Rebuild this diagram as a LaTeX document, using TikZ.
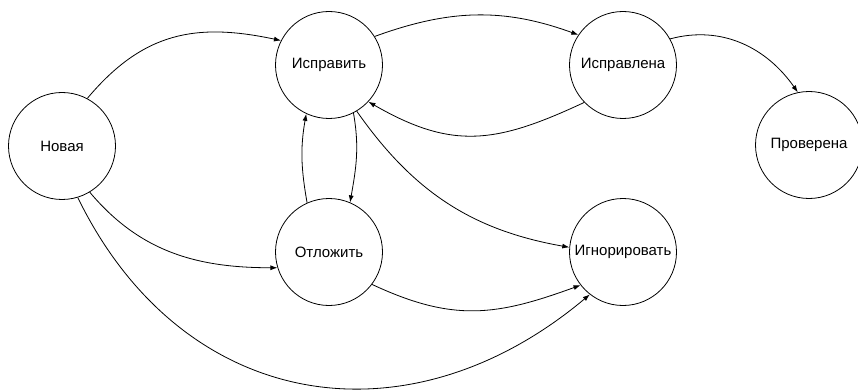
\documentclass[tikz,border=0pt]{standalone}
\usepackage{fontspec}
\setmainfont{Liberation Sans}
\usetikzlibrary{arrows.meta}

\begin{document}
\begin{tikzpicture}[>={Latex[length=7pt,width=5pt]}, x=1pt, y=-1pt,
  state/.style={draw, circle, minimum size=107pt, inner sep=0pt, line width=0.8pt,
    font=\fontsize{15}{17}\selectfont},
  trans/.style={->, line width=0.8pt}]
  \useasboundingbox (0,0) rectangle (858,390);
  % states
  \node[state] (nova) at (62,146) {Новая};
  \node[state] (ispravit) at (329,65) {Исправить};
  \node[state] (ispravlena) at (623,65) {Исправлена};
  \node[state] (proverena) at (809,145) {Проверена};
  \node[state] (otlozhit) at (329,252) {Отложить};
  \node[state] (ignor) at (623,252) {Игнорировать};
  % transitions
  \draw[trans] (nova.62) to[out=50, in=168, looseness=1.1] (ispravit.153);
  \draw[trans] (ispravit.32) to[out=20, in=160] (ispravlena.146);
  \draw[trans] (ispravlena.224) to[out=205, in=330, looseness=1.15] (ispravit.317);
  \draw[trans] (ispravlena.29) to[out=15, in=125] (proverena.102);
  \draw[trans] (ispravit.-63) to[out=-80, in=80] (otlozhit.67);
  \draw[trans] (otlozhit.114) to[out=100, in=260] (ispravit.245);
  \draw[trans] (ispravit.-59) to[out=-55, in=170] (ignor.175);
  \draw[trans] (nova.-59) to[out=-50, in=180] (otlozhit.197);
  \draw[trans] (otlozhit.-37) to[out=-25, in=200, looseness=1.1] (ignor.218);
  \draw[trans] (nova.-73) to[out=-64, in=220, looseness=1.17] (ignor.232);
\end{tikzpicture}
\end{document}
